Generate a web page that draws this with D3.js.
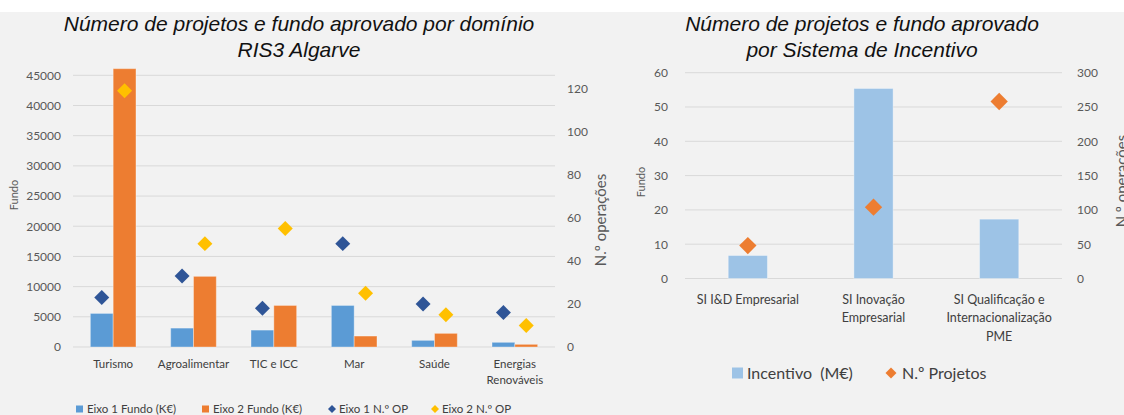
<!DOCTYPE html>
<html>
<head>
<meta charset="utf-8">
<script src="https://cdn.jsdelivr.net/npm/d3@7"></script>
<style>
  body { margin: 0; background: #f2f2f2; }
  svg { display: block; }
  .tick text { fill: #595959; font-family: Lato, sans-serif; font-size: 12px; }
  .cat { fill: #404040; font-family: Lato, sans-serif; }
  .ttl { font-family: "Liberation Sans", Arial, sans-serif; font-style: italic; fill: #111; }
  .ax-title { fill: #595959; font-family: Lato, sans-serif; }
  .leg { fill: #404040; font-family: Lato, sans-serif; }
</style>
</head>
<body>
<svg id="chart" width="1124" height="415"></svg>
<script>
// --- dados: domínios RIS3 Algarve
var dominios = ['Turismo', 'Agroalimentar', 'TIC e ICC', 'Mar', 'Saúde', 'Energias Renováveis']
var eixo1Fundo = [5560, 3130, 2800, 6880, 1100, 775]
var eixo2Fundo = [46100, 11700, 6880, 1815, 2260, 440]
var eixo1Op = [23, 33, 18, 48, 20, 16]
var eixo2Op = [119, 48, 55, 25, 15, 10]
var ticksFundo = [0, 5000, 10000, 15000, 20000, 25000, 30000, 35000, 40000, 45000]
var ticksOp = [0, 20, 40, 60, 80, 100, 120]

// --- dados: sistemas de incentivo
var sistemas = ['SI I&D Empresarial', 'SI Inovação Empresarial', 'SI Qualificação e Internacionalização PME']
var incentivo = [6.7, 55.4, 17.3]
var projetos = [48, 104, 258]
var ticksIncentivo = [0, 10, 20, 30, 40, 50, 60]
var ticksProjetos = [0, 50, 100, 150, 200, 250, 300]

var svg = d3.select('#chart')
svg.append('rect').attr('width', 1124).attr('height', 12).attr('fill', '#fff')

var diamond = function (size) {
    return d3.symbol().type(d3.symbolSquare).size(size)()
}

// quebra de linha das categorias
function wrap(sel, width, lineH) {
    sel.each(function () {
        var t = d3.select(this), words = t.text().split(' '), lines = [], cur = []
        t.text(null)
        var probe = t.append('tspan')
        words.forEach(function (w) {
            var test = cur.concat([w]).join(' ')
            probe.text(test)
            if (cur.length && probe.node().getComputedTextLength() > width) {
                lines.push(cur.join(' '))
                cur = [w]
            } else {
                cur.push(w)
            }
        })
        lines.push(cur.join(' '))
        probe.remove()
        lines.forEach(function (l, i) {
            t.append('tspan').attr('x', 0).attr('dy', i ? lineH : 0).text(l)
        })
    })
}

// ================= gráfico 1 =================
;(function () {
    var left = 73, right = 555
    var x0 = d3.scaleBand().domain(dominios).range([left, right]).paddingInner(0.432).paddingOuter(0.216)
    var x1 = d3.scaleBand().domain([0, 1]).range([0, x0.bandwidth()])
    var yF = d3.scaleLinear().domain([0, 45000]).range([347, 75.3])
    var yO = d3.scaleLinear().domain([0, 120]).range([347, 88.6])
    var cFundo = ['#5B9BD5', '#ED7D31'], cOp = ['#2F5597', '#FFC000']

    var g = svg.append('g')
    // grelha
    g.selectAll('line.grid').data(ticksFundo).enter().append('line')
        .attr('x1', left).attr('x2', right)
        .attr('y1', function (d) { return yF(d) }).attr('y2', function (d) { return yF(d) })
        .attr('stroke', '#d9d9d9').attr('stroke-width', 1)

    var axL = g.append('g').attr('transform', 'translate(' + left + ',0)')
        .call(d3.axisLeft(yF).tickValues(ticksFundo).tickSize(0).tickPadding(12).tickFormat(d3.format('d')))
    axL.select('.domain').remove()
    var axR = g.append('g').attr('transform', 'translate(' + right + ',0)')
        .call(d3.axisRight(yO).tickValues(ticksOp).tickSize(0).tickPadding(12))
    axR.select('.domain').remove()

    // barras
    var series = [eixo1Fundo, eixo2Fundo]
    series.forEach(function (vals, s) {
        g.selectAll('rect.s' + s).data(vals).enter().append('rect')
            .attr('x', function (d, i) { return x0(dominios[i]) + x1(s) })
            .attr('width', x1.bandwidth())
            .attr('y', function (d) { return yF(d) })
            .attr('height', function (d) { return yF(0) - yF(d) })
            .attr('fill', cFundo[s])
            .attr('stroke', '#fff').attr('stroke-opacity', 0.35).attr('stroke-width', 1)
    })
    // marcadores
    ;[eixo1Op, eixo2Op].forEach(function (vals, s) {
        g.selectAll('path.m' + s).data(vals).enter().append('path')
            .attr('d', diamond(112))
            .attr('transform', function (d, i) {
                return 'translate(' + (x0(dominios[i]) + x1(s) + x1.bandwidth() / 2) + ',' + yO(d) + ') rotate(45)'
            })
            .attr('fill', cOp[s])
    })

    // categorias
    g.selectAll('text.cat').data(dominios).enter().append('text')
        .attr('class', 'cat')
        .attr('transform', function (d) { return 'translate(' + (x0(d) + x0.bandwidth() / 2) + ',368)' })
        .attr('text-anchor', 'middle').style('font-size', '11.5px')
        .text(function (d) { return d })
        .call(wrap, x0.step(), 16)

    // títulos
    g.append('text').attr('class', 'ttl').attr('x', 299).attr('y', 31).attr('text-anchor', 'middle')
        .style('font-size', '21px').text('Número de projetos e fundo aprovado por domínio')
    g.append('text').attr('class', 'ttl').attr('x', 299).attr('y', 57).attr('text-anchor', 'middle')
        .style('font-size', '21px').text('RIS3 Algarve')
    g.append('text').attr('class', 'ax-title').attr('transform', 'translate(18,195) rotate(-90)')
        .attr('text-anchor', 'middle').style('font-size', '11px').text('Fundo')
    g.append('text').attr('class', 'ax-title').attr('transform', 'translate(606,220) rotate(-90)')
        .attr('text-anchor', 'middle').style('font-size', '15px').text('N.º operações')

    // legenda
    var leg = [
        { t: 'Eixo 1 Fundo (K€)', c: cFundo[0], sq: true, x: 76 },
        { t: 'Eixo 2 Fundo (K€)', c: cFundo[1], sq: true, x: 202 },
        { t: 'Eixo 1 N.º OP', c: cOp[0], sq: false, x: 328 },
        { t: 'Eixo 2 N.º OP', c: cOp[1], sq: false, x: 431 }
    ]
    var li = g.selectAll('g.leg').data(leg).enter().append('g')
        .attr('transform', function (d) { return 'translate(' + d.x + ',409)' })
    li.each(function (d) {
        var e = d3.select(this)
        if (d.sq) e.append('rect').attr('x', 0).attr('y', -3.5).attr('width', 7).attr('height', 7).attr('fill', d.c)
        else e.append('path').attr('d', diamond(32)).attr('transform', 'translate(4,0) rotate(45)').attr('fill', d.c)
    })
    li.append('text').attr('class', 'leg').attr('x', 11).attr('y', 4).style('font-size', '11.5px')
        .text(function (d) { return d.t })
})()

// ================= gráfico 2 =================
;(function () {
    var left = 685, right = 1062
    var x = d3.scaleBand().domain(sistemas).range([left, right]).paddingInner(0.688).paddingOuter(0.344)
    var yI = d3.scaleLinear().domain([0, 60]).range([278.5, 72.7])
    var yP = d3.scaleLinear().domain([0, 300]).range([278.5, 72.7])
    var cBar = '#9DC3E6', cMark = '#ED7D31'

    var g = svg.append('g')
    g.selectAll('line.grid').data(ticksIncentivo).enter().append('line')
        .attr('x1', left).attr('x2', right)
        .attr('y1', function (d) { return yI(d) }).attr('y2', function (d) { return yI(d) })
        .attr('stroke', '#d9d9d9').attr('stroke-width', 1)

    var axL = g.append('g').attr('transform', 'translate(' + left + ',0)')
        .call(d3.axisLeft(yI).tickValues(ticksIncentivo).tickSize(0).tickPadding(17))
    axL.select('.domain').remove()
    var axR = g.append('g').attr('transform', 'translate(' + right + ',0)')
        .call(d3.axisRight(yP).tickValues(ticksProjetos).tickSize(0).tickPadding(15))
    axR.select('.domain').remove()

    g.selectAll('rect.bar').data(incentivo).enter().append('rect')
        .attr('x', function (d, i) { return x(sistemas[i]) })
        .attr('width', x.bandwidth())
        .attr('y', function (d) { return yI(d) })
        .attr('height', function (d) { return yI(0) - yI(d) })
        .attr('fill', cBar)
        .attr('stroke', '#fff').attr('stroke-opacity', 0.35).attr('stroke-width', 1)

    g.selectAll('path.mk').data(projetos).enter().append('path')
        .attr('d', diamond(150))
        .attr('transform', function (d, i) {
            return 'translate(' + (x(sistemas[i]) + x.bandwidth() / 2) + ',' + yP(d) + ') rotate(45)'
        })
        .attr('fill', cMark)

    g.selectAll('text.cat').data(sistemas).enter().append('text')
        .attr('class', 'cat')
        .attr('transform', function (d) { return 'translate(' + (x(d) + x.bandwidth() / 2) + ',303.5)' })
        .attr('text-anchor', 'middle').style('font-size', '12.5px')
        .text(function (d) { return d })
        .call(wrap, x.step(), 18.7)

    g.append('text').attr('class', 'ttl').attr('x', 862).attr('y', 31).attr('text-anchor', 'middle')
        .style('font-size', '21px').text('Número de projetos e fundo aprovado')
    g.append('text').attr('class', 'ttl').attr('x', 862).attr('y', 57).attr('text-anchor', 'middle')
        .style('font-size', '21px').text('por Sistema de Incentivo')
    g.append('text').attr('class', 'ax-title').attr('transform', 'translate(645,182) rotate(-90)')
        .attr('text-anchor', 'middle').style('font-size', '11px').text('Fundo')
    g.append('text').attr('class', 'ax-title').attr('transform', 'translate(1127,181) rotate(-90)')
        .attr('text-anchor', 'middle').style('font-size', '15px').text('N.º operações')

    // legenda
    var lg = g.append('g').attr('transform', 'translate(0,373)')
    lg.append('rect').attr('x', 732).attr('y', -5.5).attr('width', 11).attr('height', 11).attr('fill', cBar)
    lg.append('text').attr('class', 'leg').attr('x', 747).attr('y', 5.5).style('font-size', '16px')
        .style('white-space', 'pre').text('Incentivo  (M€)')
    lg.append('path').attr('d', diamond(60)).attr('transform', 'translate(891,0) rotate(45)').attr('fill', cMark)
    lg.append('text').attr('class', 'leg').attr('x', 902).attr('y', 5.5).style('font-size', '16px')
        .text('N.º Projetos')
})()
</script>
</body>
</html>
